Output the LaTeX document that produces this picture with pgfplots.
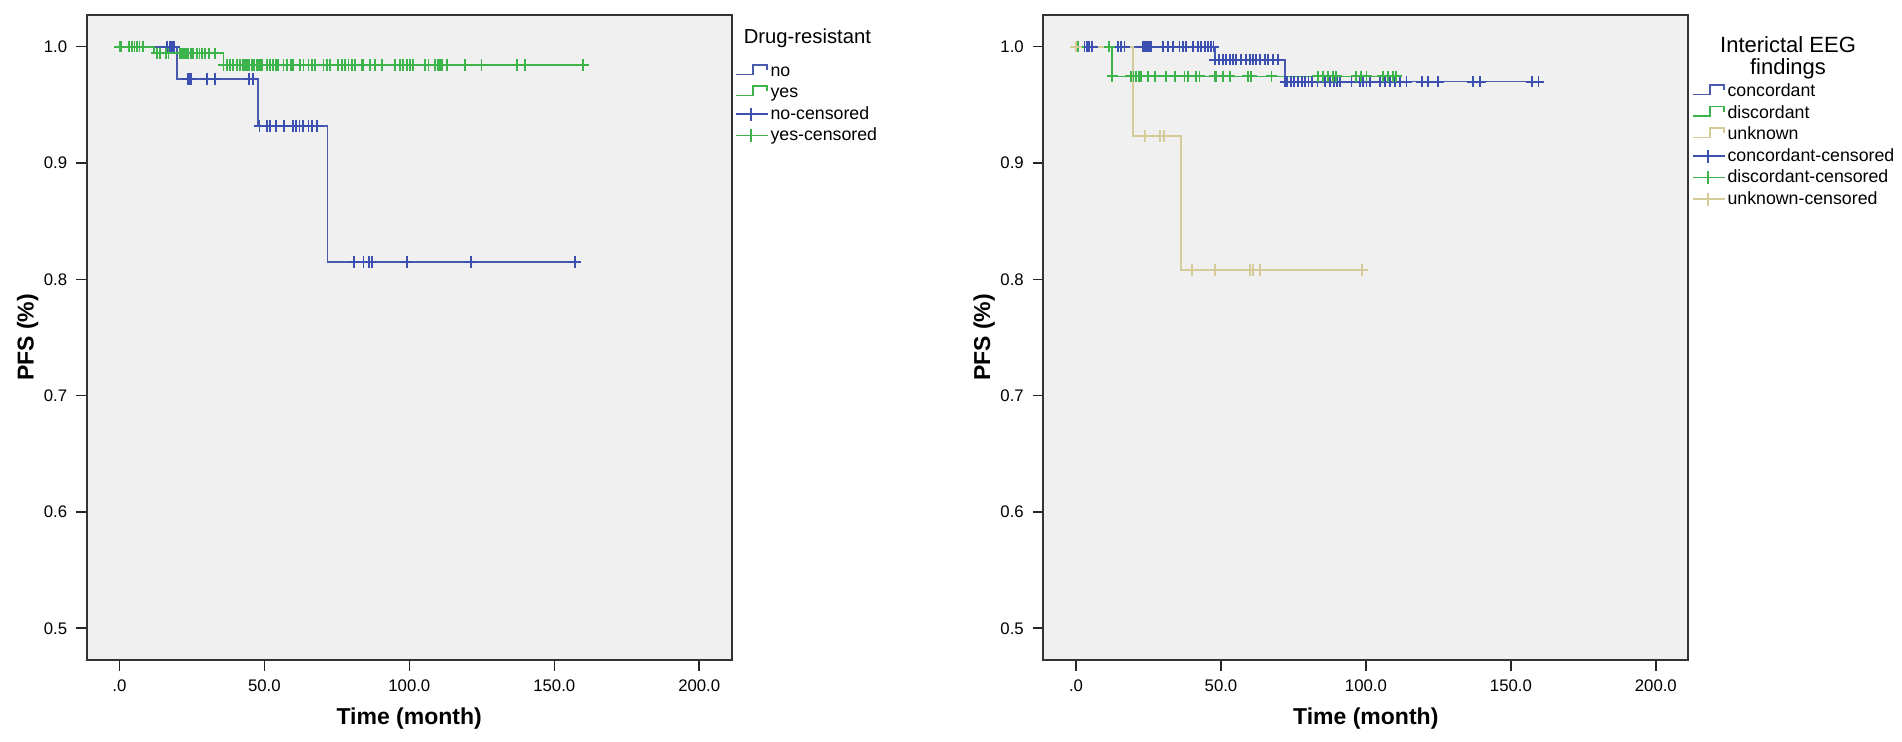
\documentclass[border=0pt]{standalone}
\usepackage{fontspec}
\setmainfont{Liberation Sans}
\usepackage{pgfplots}
\pgfplotsset{compat=1.18}
\definecolor{bgc}{HTML}{F0F0F0}
\definecolor{cBlue}{HTML}{4A5AAC}
\definecolor{cBlueM}{HTML}{3B50B0}
\definecolor{cGreen}{HTML}{3CB44B}
\definecolor{cTan}{HTML}{D4CB98}
\pgfplotsset{
 kmaxis/.style={
  width=258pt, height=258pt, scale only axis,
  xmin=-11.3, xmax=211.2, ymin=0.4727, ymax=1.0273,
  axis background/.style={fill=bgc},
  axis line style={black!80, line width=0.8pt},
  tick pos=left, tick align=outside, major tick length=4.3pt,
  tick style={black!85, line width=0.6pt},
  xtick={0,50,100,150,200}, xticklabels={.0,50.0,100.0,150.0,200.0},
  ytick={0.5,0.6,0.7,0.8,0.9,1.0}, yticklabels={0.5,0.6,0.7,0.8,0.9,1.0},
  ticklabel style={font=\fontsize{6.7}{8}\selectfont},
  xlabel={Time (month)}, ylabel={PFS (\%)},
  label style={font=\bfseries\fontsize{9.2}{11}\selectfont},
  xlabel style={at={(axis description cs:0.5,-0.0904)}, anchor=center},
  ylabel style={at={(axis description cs:-0.0915,0.5)}, anchor=center},
  clip mode=individual,
  legend cell align=left,
  legend style={draw=none, fill=none, inner sep=0pt, outer sep=0pt, column sep=0.8pt,
    font=\fontsize{7.1}{8}\selectfont, nodes={inner sep=0pt, text height=5.6pt, text depth=1.6pt}},
 },
 cens/.style={only marks, mark=+, mark size=2.3pt, line width=0.75pt, forget plot},
 km/.style={const plot, line width=0.7pt, no marks, forget plot},
 stepimg/.style={legend image code/.code={\draw[#1, line width=0.65pt] (0pt,-1.1pt) -- (6.8pt,-1.1pt) -- (6.8pt,2.7pt) -- (12.4pt,2.7pt) -- (12.4pt,0.6pt);}},
 censimg/.style={legend image code/.code={\draw[#1, line width=0.6pt] (0pt,0pt) -- (12.8pt,0pt) (6pt,-2.6pt) -- (6pt,2.6pt);}},
}
\begin{document}
\begin{tikzpicture}
\path (0,0) rectangle (760.8pt,296.8pt);
% ---------------- left panel ----------------
\begin{axis}[kmaxis, at={(34.68pt,32.8pt)}, anchor=south west,
  legend style={at={(axis description cs:1.0051,0.9260)}, anchor=north west, row sep=1.28pt}]
\addplot[km, cBlue] coordinates {(0,1) (19.8,0.9722) (47.9,0.9318) (71.8,0.8151) (157.1,0.8151)};
\addplot[km, cGreen] coordinates {(0,1) (12.0,0.9943) (35.9,0.9843) (160,0.9843)};
\addplot[cens, cBlueM] coordinates {
 (16.3,1) (17.3,1) (18.1,1) (18.9,1)
 (23.6,0.9722) (24.2,0.9722) (24.7,0.9722) (30.1,0.9722) (33.0,0.9722) (44.8,0.9722) (46.0,0.9722)
 (48.3,0.9318) (51.0,0.9318) (52.0,0.9318) (54.0,0.9318) (56.9,0.9318) (60.0,0.9318) (60.9,0.9318)
 (62.1,0.9318) (63.2,0.9318) (65.2,0.9318) (66.3,0.9318) (68.1,0.9318)
 (80.9,0.8151) (84.2,0.8151) (86.2,0.8151) (87.0,0.8151) (99.1,0.8151) (121.2,0.8151) (157.1,0.8151)};
\addplot[cens, cGreen] coordinates {
 (0,1) (0.4,1) (3.4,1) (4.3,1) (5.2,1) (6.1,1) (6.9,1) (8.0,1)
 (12.9,0.9943) (14.0,0.9943) (16.1,0.9943) (16.9,0.9943) (20.9,0.9943) (21.5,0.9943) (22.1,0.9943)
 (22.7,0.9943) (23.2,0.9943) (23.8,0.9943) (24.6,0.9943) (25.5,0.9943) (26.7,0.9943) (27.6,0.9943)
 (28.4,0.9943) (29.5,0.9943) (31.0,0.9943) (33.0,0.9943)
 (35.9,0.9843) (37.0,0.9843) (38.2,0.9843) (39.3,0.9843) (40.5,0.9843) (41.6,0.9843) (42.5,0.9843)
 (43.3,0.9843) (43.9,0.9843) (44.8,0.9843) (45.6,0.9843) (46.4,0.9843) (47.4,0.9843) (48.2,0.9843)
 (48.5,0.9843) (49.1,0.9843) (50.8,0.9843) (52.0,0.9843) (53.1,0.9843) (54.0,0.9843) (54.8,0.9843)
 (56.6,0.9843) (57.7,0.9843) (59.1,0.9843) (59.7,0.9843) (60.0,0.9843) (62.3,0.9843) (63.5,0.9843)
 (65.2,0.9843) (66.3,0.9843) (67.5,0.9843) (70.4,0.9843) (71.5,0.9843) (72.7,0.9843) (75.5,0.9843)
 (76.7,0.9843) (77.8,0.9843) (79.0,0.9843) (80.1,0.9843) (81.3,0.9843) (83.6,0.9843) (84.2,0.9843)
 (86.5,0.9843) (88.2,0.9843) (90.5,0.9843) (95.1,0.9843) (96.8,0.9843) (97.9,0.9843) (99.1,0.9843)
 (100.2,0.9843) (101.4,0.9843) (105.4,0.9843) (106.6,0.9843) (108.9,0.9843) (110.0,0.9843)
 (110.6,0.9843) (111.2,0.9843) (112.9,0.9843) (119.2,0.9843) (124.9,0.9843) (137.0,0.9843)
 (139.9,0.9843) (160.0,0.9843)};
\addlegendimage{stepimg=cBlue}\addlegendentry{no}
\addlegendimage{stepimg=cGreen}\addlegendentry{yes}
\addlegendimage{censimg=cBlueM}\addlegendentry{no-censored}
\addlegendimage{censimg=cGreen}\addlegendentry{yes-censored}
\node[anchor=west, inner sep=0pt, font=\fontsize{8.1}{9}\selectfont] at (axis description cs:1.018,0.964) {Drug-resistant};
\end{axis}
% ---------------- right panel ----------------
\begin{axis}[kmaxis, at={(417.32pt,32.8pt)}, anchor=south west,
  legend style={at={(axis description cs:1.0057,0.8950)}, anchor=north west, row sep=1.4pt}]
\addplot[km, cBlue] coordinates {(0,1) (48.0,0.9889) (72.0,0.970) (160,0.970)};
\addplot[km, cGreen] coordinates {(0,1) (12.5,0.9745) (112.5,0.9745)};
\addplot[km, cTan] coordinates {(0,1) (19.7,0.9232) (36.2,0.808) (98.7,0.808)};
\addplot[cens, cBlueM] coordinates {
 (2.9,1) (3.7,1) (4.6,1) (5.5,1) (14.4,1) (15.5,1) (16.7,1) (23.0,1) (23.6,1) (24.2,1) (24.8,1)
 (25.4,1) (25.9,1) (29.9,1) (31.6,1) (33.4,1) (35.7,1) (36.8,1) (37.8,1) (40.3,1) (42.0,1)
 (43.2,1) (44.4,1) (45.6,1) (46.5,1) (47.4,1)
 (48.0,0.9889) (49.3,0.9889) (50.7,0.9889) (51.8,0.9889) (53.0,0.9889) (54.1,0.9889) (55.3,0.9889)
 (57.0,0.9889) (58.7,0.9889) (59.9,0.9889) (61.0,0.9889) (62.2,0.9889) (63.3,0.9889) (65.1,0.9889)
 (66.2,0.9889) (67.9,0.9889) (69.6,0.9889)
 (72.2,0.970) (72.8,0.970) (74.1,0.970) (75.3,0.970) (76.5,0.970) (77.8,0.970) (79.0,0.970)
 (80.2,0.970) (81.5,0.970) (83.3,0.970) (85.8,0.970) (87.6,0.970) (88.9,0.970) (90.1,0.970)
 (91.0,0.970) (95.0,0.970) (97.9,0.970) (99.0,0.970) (100.2,0.970) (101.3,0.970) (104.8,0.970)
 (106.5,0.970) (108.2,0.970) (110.0,0.970) (111.7,0.970) (114.0,0.970) (119.2,0.970) (121.5,0.970)
 (125.0,0.970) (137.0,0.970) (139.3,0.970) (157.2,0.970) (159.5,0.970)};
\addplot[cens, cGreen] coordinates {
 (0.6,1) (11.5,1)
 (12.5,0.9745) (19.0,0.9745) (19.8,0.9745) (20.7,0.9745) (21.6,0.9745) (22.4,0.9745) (24.9,0.9745)
 (27.1,0.9745) (31.1,0.9745) (34.0,0.9745) (37.4,0.9745) (38.6,0.9745) (41.4,0.9745) (42.6,0.9745)
 (47.8,0.9745) (48.3,0.9745) (50.7,0.9745) (53.0,0.9745) (59.3,0.9745) (60.4,0.9745) (67.4,0.9745)
 (83.5,0.9745) (85.2,0.9745) (86.9,0.9745) (88.6,0.9745) (89.8,0.9745) (96.7,0.9745) (98.4,0.9745)
 (100.2,0.9745) (105.9,0.9745) (107.6,0.9745) (109.4,0.9745) (110.5,0.9745)};
\addplot[cens, cTan] coordinates {
 (0,1) (23.8,0.9232) (29.0,0.9232) (30.3,0.9232)
 (39.9,0.808) (47.8,0.808) (59.9,0.808) (60.9,0.808) (63.6,0.808) (98.7,0.808)};
\addlegendimage{stepimg=cBlue}\addlegendentry{concordant}
\addlegendimage{stepimg=cGreen}\addlegendentry{discordant}
\addlegendimage{stepimg=cTan}\addlegendentry{unknown}
\addlegendimage{censimg=cBlueM}\addlegendentry{concordant-censored}
\addlegendimage{censimg=cGreen}\addlegendentry{discordant-censored}
\addlegendimage{censimg=cTan}\addlegendentry{unknown-censored}
\node[anchor=base, inner sep=0pt, font=\fontsize{8.8}{9}\selectfont] at (axis description cs:1.1546,0.9426) {Interictal EEG};
\node[anchor=base, inner sep=0pt, font=\fontsize{8.8}{9}\selectfont] at (axis description cs:1.1546,0.9085) {findings};
\end{axis}
\end{tikzpicture}
\end{document}
